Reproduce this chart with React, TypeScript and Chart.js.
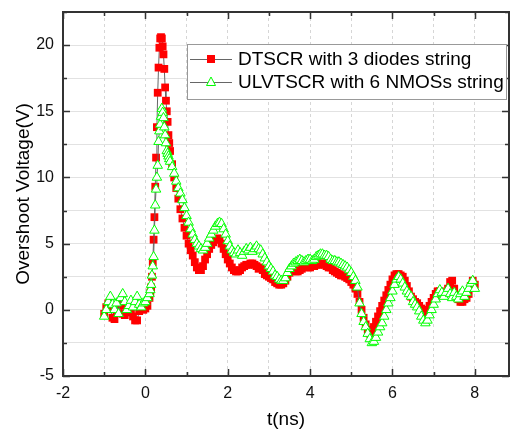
import React, { useEffect, useRef } from "react";
import { Chart, registerables } from "chart.js";

Chart.register(...registerables);

// sampling times (ns)
const timeNs = [
  -1, -0.95, -0.9, -0.85, -0.8, -0.75, -0.7, -0.65, -0.6, -0.55, -0.5, -0.45, -0.4, -0.35, -0.3, -0.25, -0.2, -0.15, -0.1, -0.05, 0, 0.05, 0.1,
  0.12, 0.14, 0.16, 0.18, 0.2, 0.22, 0.24, 0.26, 0.28, 0.3, 0.32, 0.34, 0.36, 0.38, 0.4, 0.42, 0.44, 0.46, 0.48, 0.5, 0.52, 0.54, 0.56, 0.58, 0.6,
  0.65, 0.7, 0.75, 0.8, 0.85, 0.9, 0.95, 1, 1.05, 1.1, 1.15, 1.2, 1.25, 1.3, 1.35, 1.4, 1.45, 1.5, 1.55, 1.6,
  1.65, 1.7, 1.75, 1.8, 1.85, 1.9, 1.95, 2, 2.05, 2.1, 2.15, 2.2, 2.25, 2.3, 2.35, 2.4, 2.45, 2.5, 2.55, 2.6,
  2.65, 2.7, 2.75, 2.8, 2.85, 2.9, 2.95, 3, 3.05, 3.1, 3.15, 3.2, 3.25, 3.3, 3.35, 3.4, 3.45, 3.5, 3.55, 3.6,
  3.65, 3.7, 3.75, 3.8, 3.85, 3.9, 3.95, 4, 4.05, 4.1, 4.15, 4.2, 4.25, 4.3, 4.35, 4.4, 4.45, 4.5, 4.55, 4.6,
  4.65, 4.7, 4.75, 4.8, 4.85, 4.9, 4.95, 5, 5.05, 5.1, 5.15, 5.2, 5.25, 5.3, 5.35, 5.4, 5.45, 5.5, 5.55, 5.6,
  5.65, 5.7, 5.75, 5.8, 5.85, 5.9, 5.95, 6, 6.05, 6.1, 6.15, 6.2, 6.25, 6.3, 6.35, 6.4, 6.45, 6.5, 6.55, 6.6,
  6.65, 6.7, 6.75, 6.8, 6.85, 6.9, 6.95, 7, 7.05, 7.1, 7.15, 7.2, 7.25, 7.3, 7.35, 7.4, 7.45, 7.5, 7.55, 7.6,
  7.65, 7.7, 7.75, 7.8, 7.85, 7.9, 7.95, 8,
];

// DTSCR with 3 diodes string (V)
const dtscrV = [
  -0.3, 0.2, 0.5, 0.1, -0.6, -0.7, -0.2, 0.4, 0.3, -0.3, -0.4, 0.1, 0.2, -0.2, -0.5, -0.8, -0.8, -0.1, 0.2, 0.0, 0.1, 0.3, 0.9,
  1.3, 1.7, 2.5, 3.6, 5.3, 7.0, 9.3, 11.5, 13.8, 16.4, 18.3, 19.8, 20.5, 20.6, 20.5, 19.9, 19.3, 18.2, 16.8, 15.8, 15.0, 14.2, 13.2, 12.6, 12.0,
  11.0, 10.0, 9.2, 8.4, 7.6, 6.9, 6.2, 5.6, 5.0, 4.5, 4.1, 3.6, 3.2, 3.0, 3.0, 3.3, 3.8, 4.2, 4.6, 4.9,
  5.1, 5.3, 5.4, 5.3, 5.0, 4.6, 4.2, 3.8, 3.5, 3.2, 3.0, 2.9, 2.9, 3.0, 3.2, 3.3, 3.4, 3.4, 3.5, 3.5,
  3.4, 3.3, 3.1, 3.2, 3.0, 2.7, 2.6, 2.5, 2.4, 2.3, 2.1, 2.0, 1.9, 1.9, 2.0, 2.2, 2.5, 2.8, 3.0, 3.0,
  2.9, 2.9, 3.0, 3.1, 3.3, 3.3, 3.2, 3.2, 3.3, 3.3, 3.4, 3.4, 3.5, 3.5, 3.4, 3.3, 3.2, 3.2, 3.0, 2.9,
  2.8, 2.7, 2.6, 2.6, 2.5, 2.4, 2.3, 2.1, 1.9, 1.6, 1.2, 0.6, 0.0, -0.6, -1.1, -1.5, -1.8, -1.6, -1.3, -0.9,
  -0.5, -0.1, 0.3, 0.7, 1.1, 1.5, 1.9, 2.3, 2.6, 2.7, 2.7, 2.6, 2.5, 2.2, 1.8, 1.4, 1.0, 0.8, 0.6, 0.5,
  0.3, 0.1, -0.1, -0.2, 0.0, 0.3, 0.6, 0.9, 1.2, 1.4, 1.4, 1.3, 1.2, 1.3, 1.6, 2.1, 2.2, 1.6, 1.1, 0.8,
  0.6, 0.6, 0.8, 0.9, 1.2, 1.8, 2.2, 1.9,
];

// ULVTSCR with 6 NMOSs string (V)
const ulvtscrV = [
  -0.5, 0.0, 0.6, 1.0, 0.4, 0.0, 0.5, -0.3, 0.9, 1.2, 0.6, 0.0, 0.3, 0.7, 0.2, 0.6, 1.0, 0.4, 0.2, 0.5, 0.6, 0.9, 1.2,
  1.5, 1.9, 2.6, 3.3, 4.0, 6.0, 7.9, 9.1, 10.0, 10.9, 12.7, 13.5, 14.0, 14.6, 15.2, 14.9, 14.5, 13.8, 13.2, 12.6, 12.0, 11.8, 11.6, 11.4, 11.2,
  10.8, 10.3, 9.7, 9.2, 8.8, 8.3, 7.7, 7.1, 6.6, 6.1, 5.7, 5.3, 5.0, 4.8, 4.6, 4.5, 4.7, 5.0, 5.4, 5.7,
  6.0, 6.3, 6.5, 6.6, 6.5, 6.1, 5.7, 5.2, 4.8, 4.5, 4.3, 4.2, 4.5, 4.3, 4.1, 4.4, 4.6, 4.5, 4.7, 4.4,
  4.6, 4.8, 4.6, 4.5, 4.2, 3.9, 3.6, 3.3, 3.1, 2.9, 2.6, 2.5, 2.3, 2.2, 2.2, 2.4, 2.8, 3.1, 3.3, 3.5,
  3.6, 3.7, 3.8, 3.7, 3.6, 3.7, 3.8, 3.8, 3.7, 3.8, 4.0, 4.1, 4.2, 4.2, 4.1, 4.1, 4.0, 3.8, 3.7, 3.7,
  3.6, 3.6, 3.5, 3.4, 3.3, 3.2, 3.0, 2.8, 2.5, 2.2, 1.7, 0.5, -0.3, -0.9, -1.3, -1.8, -2.2, -2.5, -2.4, -2.1,
  -1.7, -1.3, -1.0, -0.5, 0.0, 0.5, 0.9, 1.4, 1.9, 2.3, 2.5, 2.3, 2.0, 1.7, 1.4, 1.2, 1.0, 0.6, 0.4, 0.2,
  -0.1, -0.5, -0.8, -1.0, -0.8, -0.4, 0.0, 0.4, 0.8, 1.2, 1.5, 1.3, 1.0, 1.3, 1.6, 1.2, 0.9, 1.3, 1.0, 0.8,
  1.2, 1.4, 1.0, 1.3, 1.6, 2.0, 2.2, 1.6,
];

const seriesNames = ["DTSCR with 3 diodes string", "ULVTSCR with 6 NMOSs string"];
const xLabelValues = [-2, 0, 2, 4, 6, 8];
const xMinorValues = [-2, -1, 0, 1, 2, 3, 4, 5, 6, 7, 8];
const yLabelValues = [-5, 0, 5, 10, 15, 20];
const yMinorValues = [-5, -2.5, 0, 2.5, 5, 7.5, 10, 12.5, 15, 17.5, 20, 22.5];
const xTitle = "t(ns)";
const yTitle = "Overshoot Voltage(V)";

const FONT = "Arial, 'Liberation Sans', sans-serif";
const RED = "#ff0000";
const GREEN = "#00ff00";
const LINE_GRAY = "#666666";

// keep the plot area's right edge 1px from the canvas edge
const areaPlugin = {
  id: "areaFix",
  afterLayout(chart: any) {
    const ca = chart.chartArea;
    const target = chart.width - 1;
    if (ca.right === target) return;
    ca.right = target;
    ca.width = ca.right - ca.left;
    const xs = chart.scales.x;
    xs.right = target;
    xs.width = xs.right - xs.left;
    xs.configure();
  },
};

const framePlugin = {
  id: "frameTicksLegend",
  afterDatasetsDraw(chart: any) {
    const { ctx, chartArea } = chart;
    const { left, right, top, bottom } = chartArea;
    const xs = chart.scales.x;
    const ys = chart.scales.y;
    ctx.save();
    ctx.strokeStyle = "#333333";
    ctx.lineWidth = 1.5;
    // inward ticks
    ctx.beginPath();
    xMinorValues.forEach((v) => {
      const px = Math.round(xs.getPixelForValue(v)) + 0.5;
      const len = xLabelValues.includes(v) ? 7 : 4;
      ctx.moveTo(px, bottom);
      ctx.lineTo(px, bottom - len);
      ctx.moveTo(px, top);
      ctx.lineTo(px, top + len);
    });
    yMinorValues.forEach((v) => {
      const py = Math.round(ys.getPixelForValue(v)) + 0.5;
      const len = yLabelValues.includes(v) ? 7 : 4;
      ctx.moveTo(left, py);
      ctx.lineTo(left + len, py);
      ctx.moveTo(right, py);
      ctx.lineTo(right - len, py);
    });
    ctx.stroke();
    // frame
    ctx.lineWidth = 2;
    ctx.strokeRect(left, top, right - left, bottom - top);

    // legend
    const bx = 187, by = 44, bw = 319, bh = 55;
    ctx.fillStyle = "#ffffff";
    ctx.fillRect(bx, by, bw, bh);
    ctx.lineWidth = 1;
    ctx.strokeStyle = "#999999";
    ctx.strokeRect(bx + 0.5, by + 0.5, bw, bh);
    const rows = [59, 82];
    rows.forEach((ry, i) => {
      ctx.strokeStyle = LINE_GRAY;
      ctx.lineWidth = 1;
      ctx.beginPath();
      ctx.moveTo(190, ry + 0.5);
      ctx.lineTo(232, ry + 0.5);
      ctx.stroke();
      if (i === 0) {
        ctx.fillStyle = RED;
        ctx.fillRect(207, ry - 4, 8, 8);
      } else {
        ctx.fillStyle = "#ffffff";
        ctx.strokeStyle = GREEN;
        ctx.beginPath();
        ctx.moveTo(211, ry - 5);
        ctx.lineTo(215.5, ry + 3.5);
        ctx.lineTo(206.5, ry + 3.5);
        ctx.closePath();
        ctx.fill();
        ctx.stroke();
      }
      ctx.fillStyle = "#000000";
      ctx.font = `19px ${FONT}`;
      ctx.textBaseline = "middle";
      ctx.textAlign = "left";
      ctx.fillText(seriesNames[i], 238, ry + 1);
    });
    ctx.restore();
  },
};

export default function App() {
  const canvasRef = useRef<HTMLCanvasElement | null>(null);

  useEffect(() => {
    document.body.style.margin = "0";
    const canvas = canvasRef.current;
    if (!canvas) return;
    const redPts = timeNs.map((t, i) => ({ x: t, y: dtscrV[i] }));
    const greenPts = timeNs.map((t, i) => ({ x: t, y: ulvtscrV[i] }));
    const chart = new Chart(canvas, {
      type: "scatter",
      data: {
        datasets: [
          {
            label: seriesNames[0],
            data: redPts,
            showLine: true,
            borderColor: LINE_GRAY,
            borderWidth: 1,
            pointStyle: "rect",
            pointRadius: 5.5,
            pointBackgroundColor: RED,
            pointBorderColor: RED,
            pointBorderWidth: 0,
            order: 2,
          },
          {
            label: seriesNames[1],
            data: greenPts,
            showLine: true,
            borderColor: LINE_GRAY,
            borderWidth: 1,
            pointStyle: "triangle",
            pointRadius: 5.5,
            pointBackgroundColor: "#ffffff",
            pointBorderColor: GREEN,
            pointBorderWidth: 1,
            order: 1,
          },
        ],
      },
      options: {
        animation: false,
        responsive: false,
        devicePixelRatio: 1,
        layout: { padding: { top: 12, right: 1, left: 0, bottom: 0 } },
        plugins: {
          legend: { display: false },
          tooltip: { enabled: false },
        },
        scales: {
          x: {
            type: "linear",
            min: -2,
            max: 8.83,
            afterFit: (s: any) => {
              s.height = 53;
            },
            ticks: {
              stepSize: 1,
              includeBounds: false,
              autoSkip: false,
              maxRotation: 0,
              padding: 8,
              color: "#111111",
              font: { family: FONT, size: 16 },
              callback: (v: any) => (xLabelValues.includes(Number(v)) ? String(v) : ""),
            },
            grid: {
              color: "#d6d6d6",
              lineWidth: 1,
              drawTicks: false,
            },
            border: { display: false, dash: [3, 3] },
            title: {
              display: true,
              text: xTitle,
              color: "#000000",
              font: { family: FONT, size: 19, lineHeight: 1 },
              padding: { top: 0, bottom: 0 },
            },
          },
          y: {
            type: "linear",
            min: -5,
            max: 22.5,
            afterFit: (s: any) => {
              s.width = 63;
              s.paddingTop = 0;
              s.paddingBottom = 0;
            },
            ticks: {
              stepSize: 2.5,
              autoSkip: false,
              padding: 9,
              color: "#111111",
              font: { family: FONT, size: 16 },
              callback: (v: any) => (yLabelValues.includes(Number(v)) ? String(v) : ""),
            },
            grid: {
              color: "#e2e2e2",
              lineWidth: 1,
              drawTicks: false,
            },
            border: { display: false },
            title: {
              display: true,
              text: yTitle,
              color: "#000000",
              font: { family: FONT, size: 19, lineHeight: 1 },
              padding: { top: 14, bottom: 0 },
            },
          },
        },
      },
      plugins: [areaPlugin, framePlugin],
    });
    return () => chart.destroy();
  }, []);

  return (
    <div style={{ width: 510, height: 429, background: "#ffffff" }}>
      <canvas ref={canvasRef} width={510} height={429} style={{ display: "block" }} />
    </div>
  );
}
